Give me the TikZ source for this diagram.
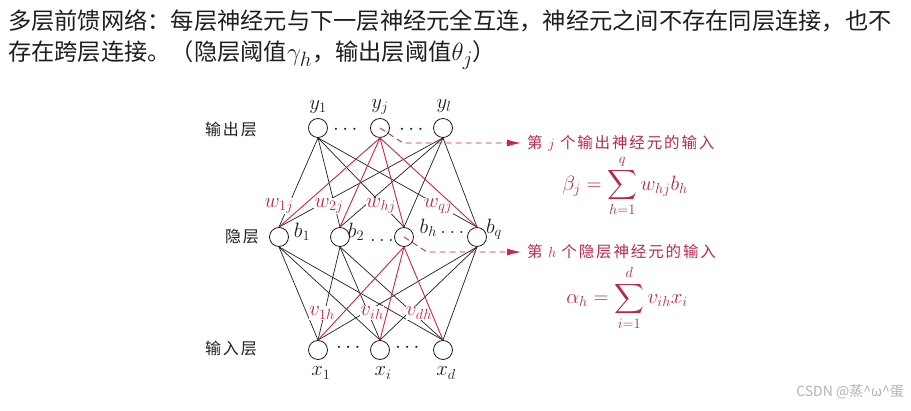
\documentclass[tikz,border=0pt]{standalone}
\usepackage{fontspec}
\usepackage{amsmath}
\newfontfamily\cjk{Noto Sans CJK SC}
\newfontfamily\cjksp[LetterSpace=12]{Noto Sans CJK SC}
\usetikzlibrary{arrows.meta}
\definecolor{myred}{RGB}{205,35,80}
\definecolor{labred}{RGB}{185,40,80}
\definecolor{ink}{RGB}{30,30,30}
\newcommand{\hmath}[1]{{\fontsize{28}{30}\selectfont$#1$}}
\begin{document}
\begin{tikzpicture}[x=1pt,y=-1pt,
  neuron/.style={circle,draw=ink,line width=0.8pt,minimum size=19pt,inner sep=0pt},
  blk/.style={draw=ink,line width=0.7pt},
  redl/.style={draw=myred,line width=0.9pt},
  wlab/.style={text=labred,fill=white,inner sep=0.5pt,font=\fontsize{19.5}{22}\selectfont},
  mlab/.style={text=ink,inner sep=0pt,font=\fontsize{19.5}{22}\selectfont},
  layer/.style={text=ink,inner sep=0pt,font=\cjksp\fontsize{16}{18}\selectfont},
  anno/.style={text=labred,font=\cjksp\fontsize{15.5}{18}\selectfont,anchor=west,inner sep=0pt},
  formula/.style={text=labred,inner sep=0pt,font=\fontsize{20}{22}\selectfont},
  dasharr/.style={draw=myred,line width=0.9pt,dash pattern=on 6pt off 4pt,-{Latex[length=14pt,width=7pt]},shorten >=6pt},
  ]
\useasboundingbox (0,0) rectangle (911,411);

% heading
\node[anchor=west,inner sep=0pt,font=\cjk\fontsize{23.25}{28}\selectfont,text=ink] (h1) at (8,21)
  {多层前馈网络：每层神经元与下一层神经元全互连，神经元之间不存在同层连接，也不};
\node[anchor=west,inner sep=0pt,font=\cjk\fontsize{23.25}{28}\selectfont,text=ink] (h2) at (8,55)
  {存在跨层连接。（隐层阈值\hmath{\gamma_h}，输出层阈值\hmath{\theta_j}）};

% neurons
\node[neuron] (y1) at (318,128) {};
\node[neuron] (yj) at (380,128) {};
\node[neuron] (yl) at (443,128) {};
\node[neuron] (b1) at (279,237) {};
\node[neuron] (b2) at (340,237) {};
\node[neuron] (bh) at (404,237) {};
\node[neuron] (bq) at (477,237) {};
\node[neuron] (x1) at (318,350) {};
\node[neuron] (xi) at (380,350) {};
\node[neuron] (xd) at (443,350) {};

% black edges
\foreach \o in {y1,yl}{\foreach \h in {b1,b2,bh,bq}{\draw[blk] (\o.south) -- (\h.north);}}
\foreach \h in {b1,b2,bq}{\foreach \i in {x1,xi,xd}{\draw[blk] (\h.south) -- (\i.north);}}

% weight labels
\node[wlab] (w1) at (279,206) {$w_{1j}$};
\node[wlab] (w2) at (329,206) {$w_{2j}$};
\node[wlab] (wh) at (381,206) {$w_{hj}$};
\node[wlab] (wq) at (438,206) {$w_{qj}$};
\node[wlab] (v1) at (322,313) {$v_{1h}$};
\node[wlab] (vi) at (372,313) {$v_{ih}$};
\node[wlab] (vd) at (419,313) {$v_{dh}$};

% red edges
\foreach \h in {b1,b2,bh,bq}{\draw[redl] (yj.south) -- (\h.north);}
\foreach \i in {x1,xi,xd}{\draw[redl] (bh.south) -- (\i.north);}

% node labels
\node[mlab] (ly1) at (318,107) {$y_1$};
\node[mlab] (lyj) at (380,107) {$y_j$};
\node[mlab] (lyl) at (444,106) {$y_l$};
\node[mlab] (lx1) at (321,373) {$x_1$};
\node[mlab] (lxi) at (383,373) {$x_i$};
\node[mlab] (lxd) at (446,373) {$x_d$};
\node[mlab] (lb1) at (302,232) {$b_1$};
\node[mlab] (lb2) at (356,232) {$b_2$};
\node[mlab] (ldh) at (382,240) {$\ldots$};
\node[mlab] (lbh) at (442,228) {$b_h\ldots$};
\node[mlab] (lbq) at (494,229) {$b_q$};
\node[mlab] (dy1) at (347,130) {$\cdots$};
\node[mlab] (dy2) at (413,130) {$\cdots$};
\node[mlab] (dx1) at (350,348) {$\cdots$};
\node[mlab] (dx2) at (409,348) {$\cdots$};

% layer names
\node[layer] (lo) at (231,129) {输出层};
\node[layer] (lh) at (242,237) {隐层};
\node[layer] (li) at (231,348) {输入层};

% annotations
\node[anno] (t1) at (527,143) {第 $j$ 个输出神经元的输入};
\node[anno] (t2) at (527,252) {第 $h$ 个隐层神经元的输入};
\coordinate (k1) at (403,143);
\coordinate (k2) at (427,252);
\draw[dasharr] (yj.center) -- (k1) -- (t1.west);
\draw[dasharr] (bh.center) -- (k2) -- (t2.west);

\node[formula] (f1) at (625,186) {$\displaystyle \beta_j=\sum_{h=1}^{q} w_{hj}b_h$};
\node[formula] (f2) at (627,298) {$\displaystyle \alpha_h=\sum_{i=1}^{d} v_{ih}x_i$};

% watermark
\node[anchor=east,inner sep=0pt,text=gray!60,font=\cjk\fontsize{14}{16}\selectfont] (wm) at (904,392)
  {CSDN @蒸\textasciicircum ω\textasciicircum 蛋};
\end{tikzpicture}
\end{document}
